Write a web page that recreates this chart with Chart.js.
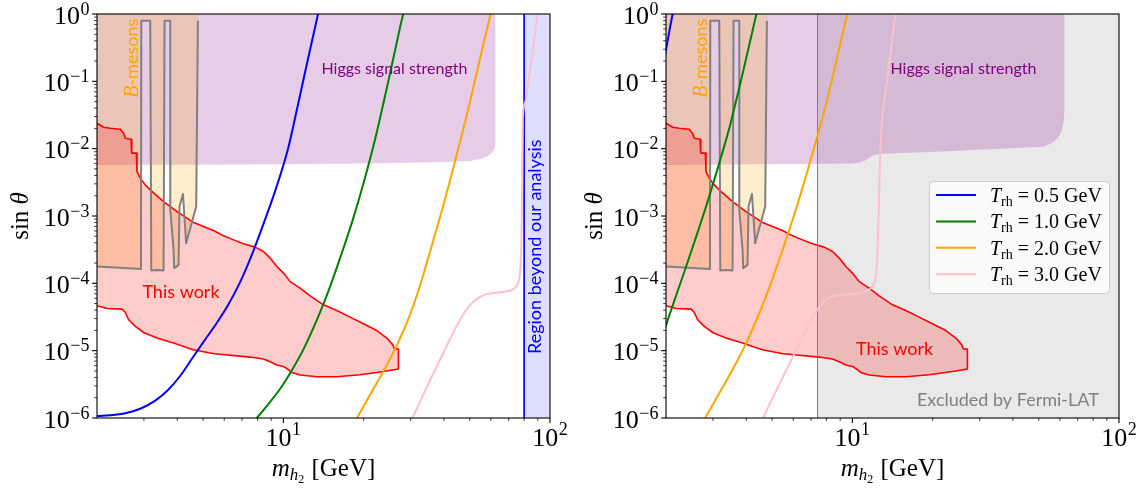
<!DOCTYPE html>
<html lang="en">
<head>
<meta charset="utf-8">
<title>sin θ versus m_h2: exclusion regions and reheating curves</title>
<script src="https://cdn.jsdelivr.net/npm/chart.js@4.4.1/dist/chart.umd.min.js"></script>
<style>
  html, body { margin: 0; padding: 0; background: #ffffff; }
  #figure { position: relative; width: 1148px; height: 488px; overflow: hidden; }
  #figure canvas { position: absolute; top: 0; }
</style>
</head>
<body>
<div id="figure">
  <canvas id="panelLeft" width="574" height="488" style="left:0px"></canvas>
  <canvas id="panelRight" width="574" height="488" style="left:574px"></canvas>
</div>
<script>
// ---------------------------------------------------------------------------
// Axis ranges and tick labels
// ---------------------------------------------------------------------------
const MASS_RANGE = [2, 100];          // m_h2 [GeV]
const SIN_RANGE = [1e-6, 1];          // sin θ
const X_TICK_VALUES = [10, 100];
const X_TICK_EXPONENTS = ['1', '2'];
const Y_TICK_VALUES = [1, 1e-1, 1e-2, 1e-3, 1e-4, 1e-5, 1e-6];
const Y_TICK_EXPONENTS = ['0', '−1', '−2', '−3', '−4', '−5', '−6'];
const T_RH_VALUES = ['0.5', '1.0', '2.0', '3.0'];   // reheating temperatures [GeV]

const FERMI_LAT_MASS = 7.4;        // Fermi-LAT excludes masses above this value
const ANALYSIS_LIMIT_MASS = 80;    // the analysis does not cover masses above this value

// ---------------------------------------------------------------------------
// Exclusion contour of this work: upper edge left to right, lower edge back
// ---------------------------------------------------------------------------
const thisWorkMass = [2.0, 2.117, 2.243, 2.445, 2.515, 2.554, 2.683, 2.70, 2.81, 2.825,
  2.906, 3.034, 3.168, 3.357, 3.554, 3.766, 3.990, 4.349, 4.605, 5.019,
  5.472, 5.966, 6.501, 7.088, 7.842, 8.426, 8.926, 9.456, 10.01, 10.61,
  11.56, 12.60, 14.14, 15.87, 17.80, 19.97, 22.41, 24.43, 25.73, 26.10,
  27.01, 27.01,
  23.73, 19.41, 15.87, 13.36, 11.56, 10.76, 10.45, 10.01, 9.456, 9.056,
  8.426, 7.510, 5.505, 4.589, 3.874, 3.357, 2.991, 2.784, 2.628, 2.554,
  2.483, 2.181, 2.0];
const thisWorkSin = [0.0239, 0.0208, 0.0201, 0.01945, 0.01697, 0.01429, 0.0138, 0.0086, 0.0086, 0.00457,
  0.00364, 0.0029, 0.00244, 0.00199, 0.00164, 0.00138, 0.001164, 0.000929, 0.000799, 0.000697,
  0.000608, 0.000507, 0.000442, 0.000386, 0.000345, 0.000297, 0.000237, 0.000178, 0.000142, 0.000106,
  8.5e-5, 6.53e-5, 4.80e-5, 3.95e-5, 3.15e-5, 2.51e-5, 1.99e-5, 1.54e-5, 1.22e-5, 1.06e-5,
  1.06e-5, 5.33e-6,
  4.91e-6, 4.39e-6, 4.10e-6, 4.10e-6, 4.35e-6, 4.75e-6, 5.21e-6, 5.83e-6, 6.11e-6, 6.68e-6,
  7.50e-6, 8.03e-6, 9.0e-6, 1.03e-5, 1.30e-5, 1.54e-5, 1.86e-5, 2.29e-5, 2.88e-5, 3.69e-5,
  4.14e-5, 4.23e-5, 4.64e-5];

// B-meson decay bound (lower edge; excluded above it)
const bMesonMass = [2.0, 2.924, 2.932, 3.168, 3.196, 3.357, 3.554, 3.584, 3.766, 3.766,
  3.874, 3.896, 4.044, 4.079, 4.201, 4.320, 4.711, 4.780];
const bMesonSin = [1.78e-4, 1.63e-4, 0.796, 0.796, 1.55e-4, 1.58e-4, 1.55e-4, 0.796, 0.796, 1.23e-3,
  3.14e-4, 1.68e-4, 1.88e-4, 1.38e-3, 2.13e-3, 3.95e-4, 1.38e-3, 0.796];

// Higgs signal strength bound (lower edge; excluded above it)
const higgsLeftMass = [2, 10, 23, 40, 50.1, 54.7, 58.0, 60.6, 61.9, 62.4];
const higgsLeftSin = [5.74e-3, 5.85e-3, 6.08e-3, 6.35e-3, 6.58e-3, 7.05e-3, 7.67e-3, 8.65e-3, 9.92e-3, 1.18e-2];
const higgsRightMass = [2, 10, 10.7, 11.27, 11.67, 12.07, 12.7, 13, 21.7, 35.8, 52.0, 56.1, 59.1, 61.1, 62.1, 62.4];
const higgsRightSin = [5.74e-3, 6.0e-3, 6.25e-3, 6.81e-3, 7.55e-3, 8.08e-3, 8.36e-3, 8.4e-3, 9.1e-3, 1.0e-2,
  1.07e-2, 1.217e-2, 1.444e-2, 1.9e-2, 2.67e-2, 3.76e-2];

// Reheating curves, left panel
const trh05LeftMass = [1.888, 2.0, 2.243, 2.554, 2.906, 3.308, 3.701, 4.106, 4.552, 5.049, 5.601, 6.212,
  6.889, 7.641, 8.475, 9.400, 10.43, 11.36, 12.39, 13.49, 13.74];
const trh05LeftSin = [1.06e-6, 1.07e-6, 1.10e-6, 1.18e-6, 1.37e-6, 1.81e-6, 2.63e-6, 4.24e-6, 7.71e-6, 1.40e-5, 2.51e-5, 4.80e-5,
  1.05e-4, 2.74e-4, 8.19e-4, 2.62e-3, 0.01026, 0.0461, 0.2223, 1.0, 1.41];
const trh10LeftMass = [7.805, 7.955, 8.773, 9.728, 10.79, 11.97, 13.27, 14.72, 16.33, 18.11, 20.09, 22.28, 24.72, 27.41, 28.13, 28.62];
const trh10LeftSin = [9.1e-7, 1e-6, 1.60e-6, 2.72e-6, 5.21e-6, 1.10e-5, 2.69e-5, 7.49e-5, 2.39e-4, 8.19e-4, 3.32e-3, 0.016, 0.098, 0.641, 1.0, 1.41];
const trh20LeftMass = [18.59, 18.91, 21.16, 23.66, 26.47, 29.37, 32.01, 34.59, 37.39, 40.42, 43.68, 47.21, 51.02, 55.13, 59.84, 61.15];
const trh20LeftSin = [8.8e-7, 1e-6, 2.22e-6, 4.86e-6, 1.14e-5, 2.88e-5, 7.49e-5, 2.09e-4, 6.02e-4, 1.79e-3, 5.74e-3, 0.01897, 0.0672, 0.2548, 1.0, 1.46];
const trh30LeftMass = [30.01, 30.53, 35.08, 40.90, 45.20, 48.86, 52.36, 56.10, 60.65, 66.11, 70.83, 73.95, 75.89, 77.21, 77.87,
  78.36, 78.68, 79.02, 80.60, 83.15, 86.37, 89.78, 90.96];
const trh30LeftSin = [8.66e-7, 1.01e-6, 3.30e-6, 1.15e-5, 2.55e-5, 4.19e-5, 5.60e-5, 6.64e-5, 7.16e-5, 7.41e-5, 7.80e-5, 8.59e-5, 1.02e-4, 1.43e-4, 2.65e-4,
  8.77e-4, 4.84e-3, 0.0267, 0.0477, 0.1014, 0.313, 1.0, 1.46];

// Reheating curves, right panel
const trh05RightMass = [1.95, 2.0, 2.119, 2.14];
const trh05RightSin = [0.17, 0.292, 1.0, 1.15];
const trh10RightMass = [1.954, 2.0, 2.148, 2.302, 2.467, 2.643, 2.833, 3.035, 3.252, 3.484, 3.733, 4.000, 4.323, 4.368, 4.398];
const trh10RightSin = [1.81e-5, 2.37e-5, 5.50e-5, 1.21e-4, 2.70e-4, 6.12e-4, 1.42e-3, 3.44e-3, 8.65e-3, 0.0229, 0.0696, 0.2223, 0.843, 1.0, 1.127];
const trh20RightMass = [2.759, 2.808, 3.061, 3.337, 3.669, 4.034, 4.436, 4.877, 5.363, 5.898, 6.485, 7.131, 7.842, 8.623, 9.480, 9.561, 9.645];
const trh20RightSin = [8.96e-7, 1.01e-6, 1.84e-6, 3.34e-6, 6.61e-6, 1.40e-5, 3.30e-5, 8.59e-5, 2.48e-4, 7.64e-4, 2.53e-3, 9.27e-3, 0.0363, 0.169, 0.872, 1.0, 1.166];
const trh30RightMass = [4.552, 4.631, 5.501, 6.265, 7.069, 7.575, 7.977, 8.402, 9.003, 9.815, 10.70, 11.36, 11.87, 12.18, 12.34,
  12.45, 12.53, 12.64, 12.72, 12.80, 12.90, 13.27, 13.68, 14.10, 14.50, 14.66];
const trh30RightSin = [8.66e-7, 1.01e-6, 4.14e-6, 1.18e-5, 3.08e-5, 4.64e-5, 5.79e-5, 6.42e-5, 6.68e-5, 6.87e-5, 7.23e-5, 7.74e-5, 8.88e-5, 1.13e-4, 1.70e-4,
  3.73e-4, 8.77e-4, 3.44e-3, 8.57e-3, 0.0135, 0.0267, 0.0628, 0.158, 0.411, 1.0, 1.36];

// ---------------------------------------------------------------------------
// Styling
// ---------------------------------------------------------------------------
const SERIF = '"Liberation Serif", "DejaVu Serif", serif';
const SANS = 'Lato, "Open Sans", sans-serif';
const TRH_COLORS = ['#0000ff', '#008000', '#ffa500', '#ffc0cb'];
const SIN_TOP = 2;                 // closes exclusion regions above the plotted range
const SIN_BOTTOM = 1e-7;
const MASS_BEYOND = 200;

const pts = (m, s) => m.map((v, i) => ({x: v, y: s[i]}));

function curve(mass, sin, color, order, smooth) {
  return {data: pts(mass, sin), showLine: true, fill: false, borderColor: color, borderWidth: 2,
          borderJoinStyle: 'round', pointRadius: 0, order, clip: 0,
          tension: smooth ? 0.4 : 0, cubicInterpolationMode: smooth ? 'monotone' : 'default'};
}
function region(mass, sin, fillColor, order, edgeColor, edgeWidth) {
  return {data: pts(mass, sin), showLine: true, fill: 'shape', backgroundColor: fillColor,
          borderColor: edgeColor || 'rgba(0,0,0,0)', borderWidth: edgeWidth || 0,
          borderJoinStyle: 'round', pointRadius: 0, order, clip: 0};
}
// closes a lower-edge bound upward to the top of the plane
function upperRegion(mass, sin) {
  const last = mass[mass.length - 1];
  return [mass.concat([last, mass[0]]), sin.concat([SIN_TOP, SIN_TOP])];
}
function band(fromMass) {
  return [[fromMass, fromMass, MASS_BEYOND, MASS_BEYOND, fromMass], [SIN_TOP * 5, SIN_BOTTOM, SIN_BOTTOM, SIN_TOP * 5, SIN_TOP * 5]];
}

function drawRuns(ctx, runs, x, y, align) {
  let total = 0;
  const widths = runs.map(r => { ctx.font = r.font; const w = ctx.measureText(r.text).width + (r.gap || 0); total += w; return w; });
  let cx = align === 'center' ? x - total / 2 : (align === 'right' ? x - total : x);
  runs.forEach((r, i) => { ctx.font = r.font; ctx.fillText(r.text, cx, y + (r.dy || 0)); cx += widths[i]; });
}

function roundedRect(ctx, x, y, w, h, r) {
  ctx.beginPath();
  ctx.moveTo(x + r, y);
  ctx.arcTo(x + w, y, x + w, y + h, r);
  ctx.arcTo(x + w, y + h, x, y + h, r);
  ctx.arcTo(x, y + h, x, y, r);
  ctx.arcTo(x, y, x + w, y, r);
  ctx.closePath();
}

function drawLegend(ctx, a) {
  const w = 180, h = 112;
  const left = a.right - 10 - w, top = a.top + 167;
  roundedRect(ctx, left + 0.5, top + 0.5, w, h, 4);
  ctx.fillStyle = 'rgba(255,255,255,0.8)';
  ctx.fill();
  ctx.strokeStyle = '#cccccc';
  ctx.lineWidth = 1;
  ctx.stroke();
  T_RH_VALUES.forEach((value, i) => {
    const y = top + 14 + i * 26.4;
    ctx.strokeStyle = TRH_COLORS[i];
    ctx.lineWidth = 2;
    ctx.beginPath(); ctx.moveTo(left + 7, y); ctx.lineTo(left + 47, y); ctx.stroke();
    ctx.fillStyle = '#000000';
    drawRuns(ctx, [
      {text: 'T', font: `italic 20px ${SERIF}`},
      {text: 'rh', font: `14px ${SERIF}`, dy: 4},
      {text: ` = ${value} GeV`, font: `20px ${SERIF}`}
    ], left + 61, y + 6.7, 'left');
  });
}

function drawAxes(ctx, a, xs, ys) {
  const seg = (x1, y1, x2, y2, w) => { ctx.lineWidth = w; ctx.beginPath(); ctx.moveTo(x1, y1); ctx.lineTo(x2, y2); ctx.stroke(); };
  ctx.strokeStyle = '#000000';
  ctx.fillStyle = '#000000';
  // minor ticks
  for (let e = -6; e < 0; e++) {
    for (let k = 2; k <= 9; k++) {
      const py = ys.getPixelForValue(k * Math.pow(10, e));
      seg(a.left, py, a.left - 2.8, py, 0.8);
    }
  }
  for (let e = 0; e < 2; e++) {
    for (let k = 2; k <= 9; k++) {
      const v = k * Math.pow(10, e);
      if (v <= MASS_RANGE[0] || v >= MASS_RANGE[1]) continue;
      const px = xs.getPixelForValue(v);
      seg(px, a.bottom, px, a.bottom + 2.8, 0.8);
    }
  }
  // major ticks and labels
  Y_TICK_VALUES.forEach((v, i) => {
    const py = ys.getPixelForValue(v);
    seg(a.left, py, a.left - 4.9, py, 1.1);
    drawRuns(ctx, [
      {text: '10', font: `26px ${SERIF}`, gap: 0.5},
      {text: Y_TICK_EXPONENTS[i], font: `18px ${SERIF}`, dy: -9}
    ], a.left - 7.5, py + 9.5, 'right');
  });
  X_TICK_VALUES.forEach((v, i) => {
    const px = xs.getPixelForValue(v);
    seg(px, a.bottom, px, a.bottom + 4.9, 1.1);
    drawRuns(ctx, [
      {text: '10', font: `26px ${SERIF}`, gap: 0.5},
      {text: X_TICK_EXPONENTS[i], font: `18px ${SERIF}`, dy: -11}
    ], px, a.bottom + 28, 'center');
  });
  // frame
  ctx.lineWidth = 1.1;
  ctx.strokeRect(a.left, a.top, a.right - a.left, a.bottom - a.top);
  // axis titles
  drawRuns(ctx, [
    {text: 'm', font: `italic 25px ${SERIF}`},
    {text: 'h', font: `italic 17px ${SERIF}`, dy: 4},
    {text: '2', font: `12px ${SERIF}`, dy: 7, gap: 1},
    {text: ' [GeV]', font: `25px ${SERIF}`}
  ], (a.left + a.right) / 2, 476, 'center');
  ctx.save();
  ctx.translate(28, (a.top + a.bottom) / 2);
  ctx.rotate(-Math.PI / 2);
  drawRuns(ctx, [
    {text: 'sin ', font: `25px ${SERIF}`},
    {text: 'θ', font: `italic 25px ${SERIF}`}
  ], 0, 0, 'center');
  ctx.restore();
}

const decorations = {
  id: 'decorations',
  afterDatasetsDraw(chart, _args, opts) {
    const {ctx, chartArea: a, scales: {x: xs, y: ys}} = chart;
    ctx.save();
    ctx.textAlign = 'left';
    ctx.textBaseline = 'alphabetic';
    for (const lab of opts.labels) {
      ctx.save();
      ctx.translate(xs.getPixelForValue(lab.mass), ys.getPixelForValue(lab.sin));
      if (lab.rotate) ctx.rotate(-Math.PI / 2);
      ctx.fillStyle = lab.color;
      drawRuns(ctx, lab.runs, 0, 0, 'center');
      ctx.restore();
    }
    if (opts.legend) drawLegend(ctx, a);
    drawAxes(ctx, a, xs, ys);
    ctx.restore();
  }
};

const higgsText = {color: '#800080', runs: [{text: 'Higgs signal strength', font: `16px ${SANS}`}]};
const bMesonText = {color: '#ffa500', rotate: true,
  runs: [{text: 'B', font: `italic 20px ${SERIF}`}, {text: '-mesons', font: `18px ${SANS}`}]};
const thisWorkText = {color: '#ff0000', runs: [{text: 'This work', font: `18px ${SANS}`}]};

function makePanel(canvasId, padding, datasets, labels, legend) {
  return new Chart(document.getElementById(canvasId), {
    type: 'scatter',
    data: {datasets},
    options: {
      responsive: false,
      animation: false,
      devicePixelRatio: 1,
      layout: {padding},
      scales: {
        x: {type: 'logarithmic', min: MASS_RANGE[0], max: MASS_RANGE[1], display: false},
        y: {type: 'logarithmic', min: SIN_RANGE[0], max: SIN_RANGE[1], display: false}
      },
      elements: {point: {radius: 0}},
      plugins: {
        legend: {display: false},
        tooltip: {enabled: false},
        decorations: {labels, legend}
      }
    },
    plugins: [decorations]
  });
}

const [higgsLM, higgsLS] = upperRegion(higgsLeftMass, higgsLeftSin);
const [higgsRM, higgsRS] = upperRegion(higgsRightMass, higgsRightSin);
const [bFillM, bFillS] = upperRegion(bMesonMass, bMesonSin);
const [analysisM, analysisS] = band(ANALYSIS_LIMIT_MASS);
const [fermiM, fermiS] = band(FERMI_LAT_MASS);

// Left panel
makePanel('panelLeft', {left: 97, right: 24, top: 14, bottom: 70}, [
  region(higgsLM, higgsLS, 'rgba(128,0,128,0.2)', 100),
  region(bFillM, bFillS, 'rgba(255,165,0,0.2)', 90),
  region(thisWorkMass, thisWorkSin, 'rgba(255,0,0,0.2)', 80, '#ff0000', 1.6),
  region(analysisM, analysisS, 'rgba(0,0,255,0.13)', 70, '#0000ff', 1),
  curve(bMesonMass, bMesonSin, '#808080', 60, false),
  curve(trh05LeftMass, trh05LeftSin, TRH_COLORS[0], 13, true),
  curve(trh10LeftMass, trh10LeftSin, TRH_COLORS[1], 12, true),
  curve(trh20LeftMass, trh20LeftSin, TRH_COLORS[2], 11, true),
  curve(trh30LeftMass, trh30LeftSin, TRH_COLORS[3], 10, true)
], [
  Object.assign({mass: 26.1, sin: 0.1287}, higgsText),
  Object.assign({mass: 2.85, sin: 0.22}, bMesonText),
  Object.assign({mass: 4.13, sin: 6.04e-5}, thisWorkText),
  {mass: 92.9, sin: 3.5e-4, rotate: true, color: '#0000ff',
   runs: [{text: 'Region beyond our analysis', font: `18px ${SANS}`}]}
], false);

// Right panel
const fermiEdge = curve([FERMI_LAT_MASS, FERMI_LAT_MASS], [SIN_BOTTOM, SIN_TOP], '#808080', 65, false);
fermiEdge.borderWidth = 1;
makePanel('panelRight', {left: 92, right: 29, top: 14, bottom: 70}, [
  region(fermiM, fermiS, 'rgba(211,211,211,0.5)', 110),
  region(higgsRM, higgsRS, 'rgba(128,0,128,0.2)', 100),
  region(bFillM, bFillS, 'rgba(255,165,0,0.2)', 90),
  region(thisWorkMass, thisWorkSin, 'rgba(255,0,0,0.2)', 80, '#ff0000', 1.6),
  fermiEdge,
  curve(bMesonMass, bMesonSin, '#808080', 60, false),
  curve(trh05RightMass, trh05RightSin, TRH_COLORS[0], 13, true),
  curve(trh10RightMass, trh10RightSin, TRH_COLORS[1], 12, true),
  curve(trh20RightMass, trh20RightSin, TRH_COLORS[2], 11, true),
  curve(trh30RightMass, trh30RightSin, TRH_COLORS[3], 10, true)
], [
  Object.assign({mass: 26.1, sin: 0.1287}, higgsText),
  Object.assign({mass: 2.85, sin: 0.22}, bMesonText),
  Object.assign({mass: 14.4, sin: 8.7e-6}, thisWorkText),
  {mass: 38.3, sin: 1.52e-6, color: '#808080',
   runs: [{text: 'Excluded by Fermi-LAT', font: `18px ${SANS}`}]}
], true);
</script>
</body>
</html>
